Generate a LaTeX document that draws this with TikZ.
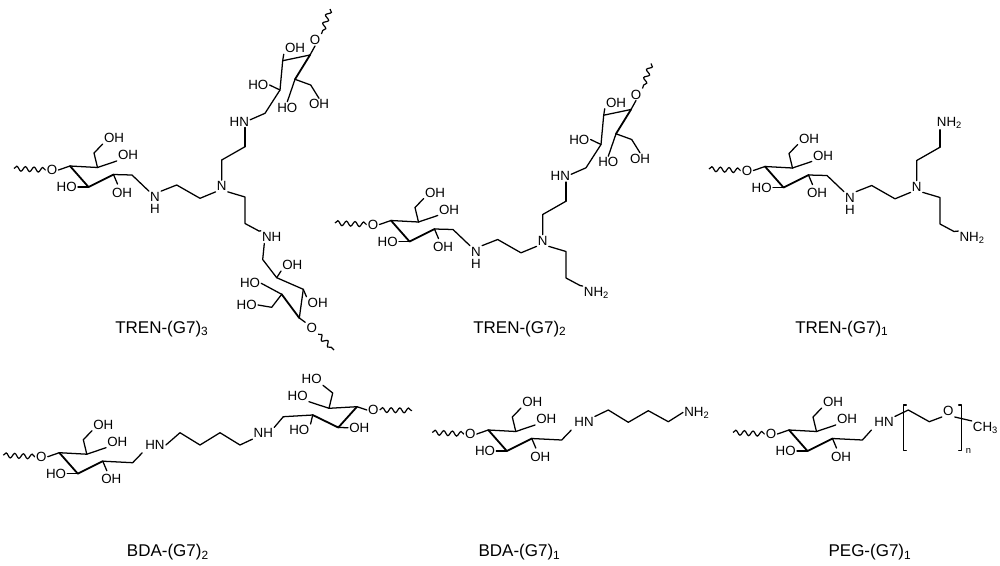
\documentclass[tikz,border=0pt]{standalone}
\usepackage{fontspec}
\setmainfont{Liberation Sans}
\usetikzlibrary{decorations.pathmorphing}
\tikzset{
  bond/.style={line width=0.95pt,line cap=round,line join=round},
  front/.style={line width=1.35pt,line cap=round,line join=round},
  wavy/.style={line width=0.9pt,decorate,decoration={snake,amplitude=1.8pt,segment length=6.5pt}},
  atom/.style={inner sep=0.75pt,font=\fontsize{10}{12}\selectfont},
  groupbase/.style={inner sep=0.75pt,anchor=base west,font=\fontsize{10}{12}\selectfont},
  title/.style={inner sep=0pt,anchor=base west,font=\fontsize{12.75}{15}\selectfont},
}
% glycosyl unit, usual orientation, origin at carbon a
\newcommand{\sugarN}[3]{%
  \begin{scope}[shift={(#2,#3)}]
    \coordinate (#1a) at (0,0);
    \coordinate (#1b) at (27.5,1.5);
    \coordinate (#1c) at (43.5,8.5);
    \coordinate (#1d) at (18.5,21);
    \coordinate (#1e) at (24,-13);
    \coordinate (#1w) at (-56,2.5);
    \node[atom] (#1o) at (-18,4) {O};
    \node[atom] (#1oh6) at (44,-28) {OH};
    \node[atom] (#1oh4) at (58,-11) {OH};
    \node[atom] (#1oh2) at (-3.3,21) {HO};
    \node[atom] (#1oh1) at (52,26.5) {OH};
    \draw[wavy] (#1w) -- (#1o.west);
    \draw[bond] (#1o.east) -- (#1a) -- (#1b);
    \draw[front] (#1a) -- (#1d) -- (#1c);
    \draw[bond] (#1b) -- (#1e) -- (#1oh6.south west);
    \draw[bond] (#1b) -- (#1oh4.south west);
    \draw[bond] (#1d) -- (#1oh2.east);
    \draw[bond,shorten >=2pt] (#1c) -- (#1oh1.120);
  \end{scope}}
% glycosyl unit turned upward (above the upper arm)
\newcommand{\sugarT}[1]{%
  \coordinate (#1a) at (310,55);
  \coordinate (#1b) at (295,79.3);
  \coordinate (#1c) at (280,90);
  \coordinate (#1d) at (282.7,60.7);
  \coordinate (#1e) at (310.7,85);
  \coordinate (#1w) at (330,9);
  \coordinate (#1f) at (265,113.3);
  \node[atom] (#1o) at (315,40) {O};
  \node[atom] (#1oh6) at (319,104.3) {OH};
  \node[atom] (#1oh4) at (287.3,107.7) {HO};
  \node[atom] (#1oh2) at (295,48.3) {OH};
  \node[atom] (#1oh1) at (258.3,85) {HO};
  \node[atom] (#1hn) at (239.3,121.7) {HN};
  \draw[wavy] (#1w) -- (#1o.north east);
  \draw[bond] (#1o.south) -- (#1a) -- (#1d) -- (#1c) -- (#1f) -- (#1hn.10);
  \draw[front] (#1a) -- (#1b);
  \draw[bond] (#1b) -- (#1e) -- (#1oh6.north);
  \draw[bond] (#1b) -- (#1oh4.north);
  \draw[bond] (#1d) -- (#1oh2.south west);
  \draw[bond] (#1c) -- (#1oh1.east);}
% left unit, secondary amine, tertiary amine and both arms
\newcommand{\trenbase}[1]{%
  \sugarN{#1l}{70}{166}
  \coordinate (#1f) at (132,175);
  \node[atom] (#1ns) at (155,197) {N};
  \node[atom] (#1nh) at (155,209) {H};
  \node[atom] (#1nt) at (221.7,186) {N};
  \coordinate (#1s1) at (176.7,185);
  \coordinate (#1s2) at (200,198.3);
  \coordinate (#1u1) at (221.7,160);
  \coordinate (#1u2) at (245,146.7);
  \coordinate (#1d1) at (245,197);
  \coordinate (#1d2) at (245,223.5);
  \coordinate (#1d3) at (259,231);
  \draw[bond] (#1lc) -- (#1f) -- (#1ns.north west);
  \draw[bond] (#1ns.north east) -- (#1s1) -- (#1s2) -- (#1nt.south west);
  \draw[bond] (#1nt.north) -- (#1u1) -- (#1u2);
  \draw[bond] (#1nt.south east) -- (#1d1) -- (#1d2) -- (#1d3);}
\begin{document}
\begin{tikzpicture}[x=0.75pt,y=-0.75pt]
\fill[white] (0,0) rectangle (1000,565);
\useasboundingbox (0,0) rectangle (1000,565);
% ---------- TREN-(G7)3
\trenbase{a}
\sugarT{at}
\draw[bond] (au2) -- (au2 |- athn.south);
% lower unit
\node[atom] (bnh) at (271.7,236.7) {NH};
\draw[bond] (ad3) -- (bnh.north west);
\coordinate (bn) at (264.3,243.5);
\coordinate (bf) at (262.7,259.5);
\coordinate (bc) at (276.7,277.7);
\coordinate (bd) at (303.3,289.3);
\coordinate (ba) at (299.3,318);
\coordinate (bb) at (281.7,294.3);
\coordinate (be) at (271.7,307.3);
\coordinate (bw) at (334,350);
\node[atom] (boha) at (292.3,265) {OH};
\node[atom] (bohb) at (250,283.3) {HO};
\node[atom] (bohc) at (317.7,302.7) {OH};
\node[atom] (bohd) at (246.7,305) {HO};
\node[atom] (bo) at (311.7,328.3) {O};
\draw[bond] (bn) -- (bf) -- (bc) -- (bd) -- (ba) -- (bo.north west);
\draw[front] (bb) -- (ba);
\draw[bond] (bc) -- (boha.south west);
\draw[bond] (bb) -- (bohb.east);
\draw[bond] (bd) -- (bohc.north west);
\draw[bond] (bb) -- (be) -- (bohd.east);
\draw[wavy] (bo.south east) -- (bw);
\node[title] (ta) at (115,333) {TREN-(G7)\textsubscript{3}};
% ---------- TREN-(G7)2
\begin{scope}[shift={(321,54.5)}]
\trenbase{c}
\sugarT{ct}
\draw[bond] (cu2) -- (cu2 |- cthn.south);
\node[groupbase] (cnh) at (261.7,242) {NH\textsubscript{2}};
\draw[bond] (cd3) -- (cnh.north west);
\end{scope}
\node[title] (tb) at (473,333) {TREN-(G7)\textsubscript{2}};
% ---------- TREN-(G7)1
\begin{scope}[shift={(695,0.5)}]
\trenbase{e}
\node[groupbase] (enu) at (240.7,126) {NH\textsubscript{2}};
\draw[bond] (eu2) -- (eu2 |- enu.south);
\node[groupbase] (enl) at (263.3,241) {NH\textsubscript{2}};
\draw[bond] (ed3) -- (enl.north west);
\end{scope}
\node[title] (tc) at (795,333) {TREN-(G7)\textsubscript{1}};
% ---------- BDA-(G7)2
\sugarN{g}{59.3}{452.7}
\coordinate (gf) at (132.7,462.7);
\node[atom] (ghn) at (155,445) {HN};
\coordinate (g2) at (180,432.7);
\coordinate (g3) at (200,445);
\coordinate (g4) at (220,432.7);
\coordinate (g5) at (240,445);
\node[atom] (gnh) at (263.3,433.3) {NH};
\coordinate (gz) at (283.3,416.7);
\draw[bond,shorten >=2pt] (gc) -- (gf) -- (ghn.south west);
\draw[bond] (ghn.east) -- (g2) -- (g3) -- (g4) -- (g5) -- (gnh.south west);
\draw[bond] (gnh.north east) -- (gz);
\coordinate (ha) at (357,406.7);
\coordinate (hb) at (329,408.3);
\coordinate (hc) at (312.7,415);
\coordinate (hd) at (338.3,427.5);
\coordinate (he) at (332.7,393);
\coordinate (hw) at (412,410.5);
\node[atom] (ho6) at (311.7,379.3) {HO};
\node[atom] (ho4) at (297.7,395.7) {HO};
\node[atom] (ho2) at (359.3,427.7) {OH};
\node[atom] (ho1) at (299.3,430) {HO};
\node[atom] (ho) at (373.3,410) {O};
\draw[bond] (gz) -- (hc);
\draw[bond] (hb) -- (ha) -- (ho.west);
\draw[front] (ha) -- (hd) -- (hc);
\draw[bond] (hb) -- (he) -- (ho6.south east);
\draw[bond] (hb) -- (ho4.south east);
\draw[bond] (hd) -- (ho2.west);
\draw[bond] (hc) -- (ho1.north east);
\draw[wavy] (ho.east) -- (hw);
\node[title] (td) at (126.7,556.5) {BDA-(G7)\textsubscript{2}};
% ---------- BDA-(G7)1
\sugarN{k}{488.3}{430}
\coordinate (kf) at (561.7,440);
\node[atom] (khn) at (584,422.3) {HN};
\coordinate (k1) at (608.3,410);
\coordinate (k2) at (628.3,422.3);
\coordinate (k3) at (648.3,410.7);
\coordinate (k4) at (668.3,421.7);
\node[groupbase] (knh) at (683,416) {NH\textsubscript{2}};
\draw[bond,shorten >=2pt] (kc) -- (kf) -- (khn.south west);
\draw[bond] (khn.north east) -- (k1) -- (k2) -- (k3) -- (k4) -- (knh.west);
\node[title] (te) at (478.3,556.5) {BDA-(G7)\textsubscript{1}};
% ---------- PEG-(G7)1
\sugarN{m}{789}{430}
\coordinate (mf) at (862.4,440);
\node[atom] (mhn) at (884,422.3) {HN};
\coordinate (m1) at (908.3,410);
\coordinate (m2) at (929.3,421.7);
\node[atom] (mo) at (948.3,411) {O};
\node[groupbase] (mch) at (971.7,431.5) {CH\textsubscript{3}};
\draw[bond,shorten >=2pt] (mc) -- (mf) -- (mhn.south west);
\draw[bond] (mhn.north east) -- (m1) -- (m2) -- (mo.south west);
\draw[bond] (mo.south east) -- (mch.north west);
\coordinate (bl1) at (906.3,405);
\coordinate (bl2) at (903.3,405);
\coordinate (bl3) at (903.3,450.7);
\coordinate (bl4) at (906.3,450.7);
\coordinate (br1) at (958.7,405);
\coordinate (br2) at (961.7,405);
\coordinate (br3) at (961.7,450.7);
\coordinate (br4) at (958.7,450.7);
\draw[bond] (bl1) -- (bl2) -- (bl3) -- (bl4);
\draw[bond] (br1) -- (br2) -- (br3) -- (br4);
\node[inner sep=0pt,font=\fontsize{7}{8}\selectfont] (mn) at (968.5,450.5) {n};
\node[title] (tf) at (828.3,556.5) {PEG-(G7)\textsubscript{1}};
\end{tikzpicture}
\end{document}
